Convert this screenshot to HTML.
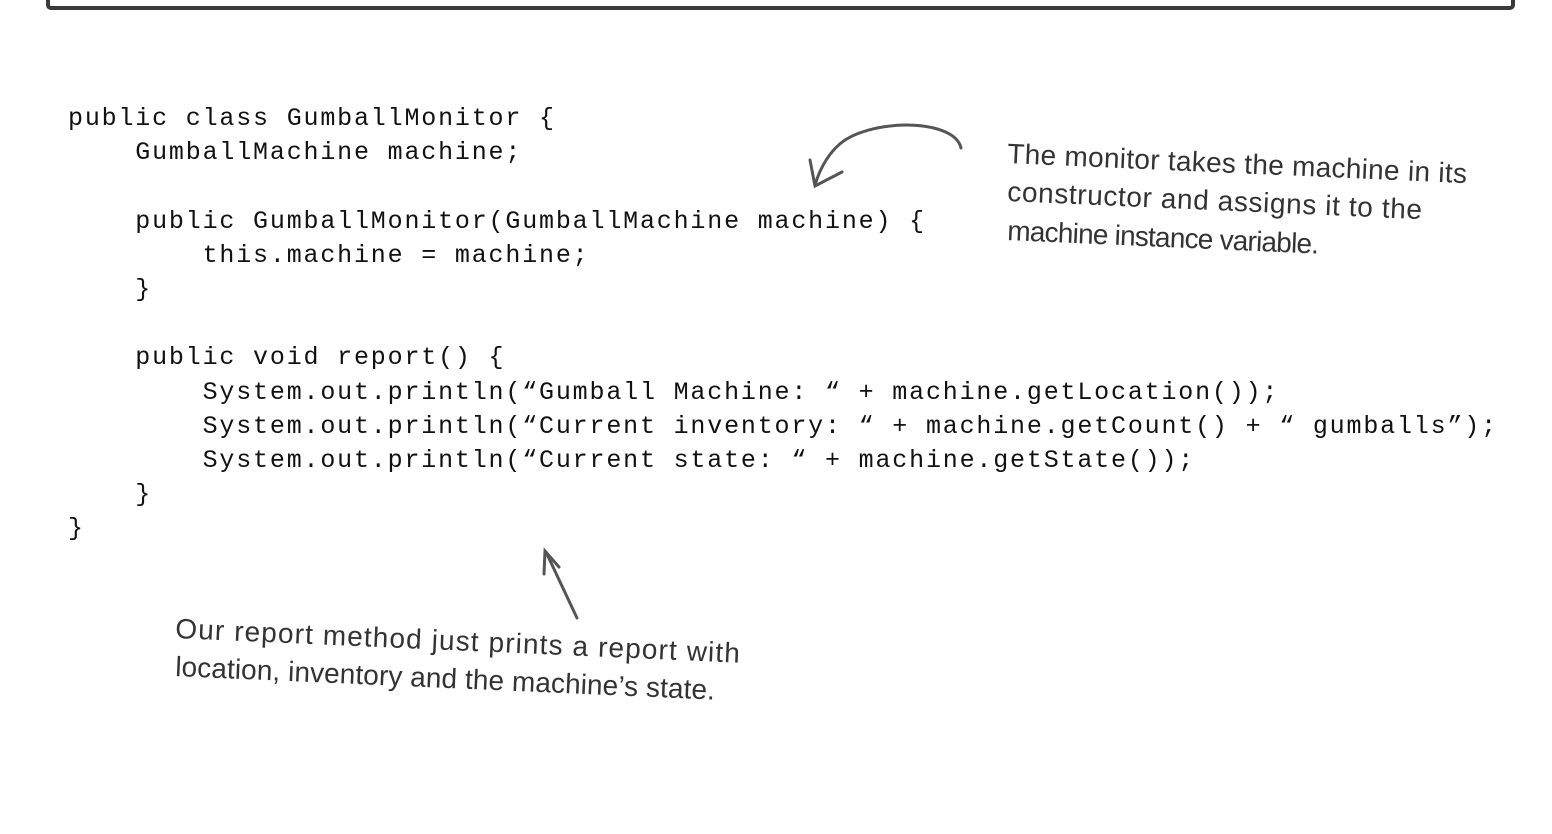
<!DOCTYPE html>
<html><head><meta charset="utf-8"><style>
html,body{margin:0;padding:0;background:#fff;width:1552px;height:834px;overflow:hidden;position:relative}
.box{position:absolute;left:46px;top:-20px;width:1461px;height:26px;border:4px solid #3a3a3a;border-top:none;border-radius:0 0 5px 5px}
pre{position:absolute;left:68px;top:102px;margin:0;font-family:"Liberation Mono","Courier New",monospace;font-size:25px;letter-spacing:1.82px;line-height:34.2px;color:#111}
svg{position:absolute;left:0;top:0}
.h{font-family:"Liberation Sans Narrow","Liberation Sans",sans-serif;font-size:28px;fill:#333}
</style></head><body>
<div class="box"></div>
<pre>public class GumballMonitor {
    GumballMachine machine;

    public GumballMonitor(GumballMachine machine) {
        this.machine = machine;
    }

    public void report() {
        System.out.println(“Gumball Machine: “ + machine.getLocation());
        System.out.println(“Current inventory: “ + machine.getCount() + “ gumballs”);
        System.out.println(“Current state: “ + machine.getState());
    }
}</pre>
<svg width="1552" height="834">
<g fill="none" stroke="#555" stroke-width="3" stroke-linecap="round">
<path d="M961 148 C955 120 880 118 845 140 C830 150 820 168 815 185"/>
<path d="M810 160 L815 186 L842 172"/>
<path d="M577 618 L546 552"/>
<path d="M544 574 L545 551 L559 567"/>
</g>
<g class="h">
<text x="1007" y="163" transform="rotate(2.5 1007 163)" textLength="460">The monitor takes the machine in its</text>
<text x="1007" y="201" transform="rotate(2.5 1007 201)" textLength="415">constructor and assigns it to the</text>
<text x="1007" y="240" transform="rotate(2.5 1007 240)" textLength="312">machine instance variable.</text>
<text x="175" y="638" transform="rotate(2.5 175 638)" textLength="565">Our report method just prints a report with</text>
<text x="175" y="676" transform="rotate(2.5 175 676)" textLength="540">location, inventory and the machine’s state.</text>
</g>
</svg>
</body></html>
